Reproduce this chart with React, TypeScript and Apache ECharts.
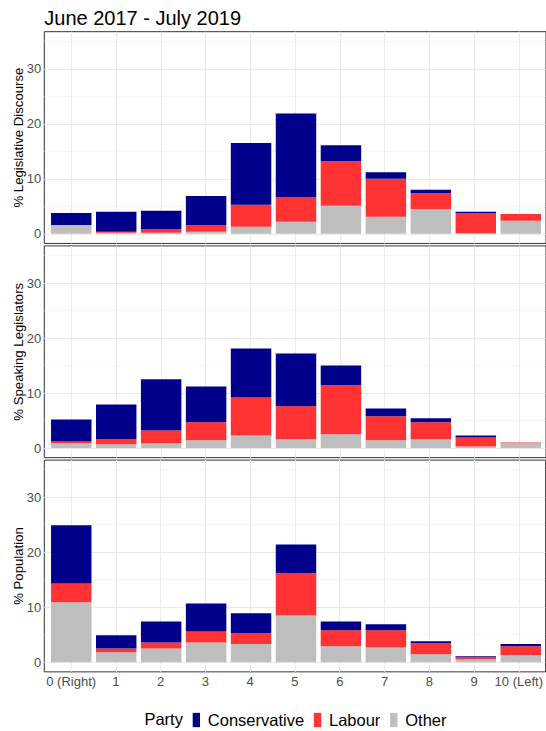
import React, { useEffect, useRef } from "react";
import * as echarts from "echarts";

const categories = ["0 (Right)", "1", "2", "3", "4", "5", "6", "7", "8", "9", "10 (Left)"];
const panelTitles = ["% Legislative Discourse", "% Speaking Legislators", "% Population"];
const parties = ["Conservative", "Labour", "Other"];
const partyColors: Record<string, string> = { Conservative: "#00008B", Labour: "#FF3333", Other: "#BEBEBE" };

// Panel 1: % Legislative Discourse
const discourseOther = [1.6, 0.2, 0.2, 0.4, 1.3, 2.2, 5.1, 3.1, 4.5, 0.1, 2.4];
const discourseLabour = [0.0, 0.2, 0.7, 1.2, 4.0, 4.5, 8.1, 6.9, 2.9, 3.7, 1.2];
const discourseConservative = [2.2, 3.6, 3.3, 5.3, 11.2, 15.2, 2.9, 1.2, 0.6, 0.2, 0.0];

// Panel 2: % Speaking Legislators
const speakingOther = [0.85, 0.7, 0.85, 1.4, 2.3, 1.6, 2.5, 1.4, 1.6, 0.3, 0.85];
const speakingLabour = [0.35, 0.9, 2.35, 3.3, 6.9, 6.0, 8.9, 4.4, 3.1, 1.6, 0.15];
const speakingConservative = [4.0, 6.3, 9.3, 6.5, 8.9, 9.6, 3.6, 1.4, 0.7, 0.4, 0.0];

// Panel 3: % Population
const populationOther = [10.9, 1.8, 2.5, 3.6, 3.3, 8.5, 2.9, 2.7, 1.45, 0.55, 1.3];
const populationLabour = [3.4, 0.7, 1.1, 2.0, 2.0, 7.7, 2.9, 3.1, 2.0, 0.35, 1.6];
const populationConservative = [10.6, 2.4, 3.8, 5.1, 3.6, 5.2, 1.6, 1.1, 0.35, 0.2, 0.4];

const yTicks = [0, 10, 20, 30];
const yMinorTicks = [5, 15, 25, 35];

const panels = [
  { Other: discourseOther, Labour: discourseLabour, Conservative: discourseConservative },
  { Other: speakingOther, Labour: speakingLabour, Conservative: speakingConservative },
  { Other: populationOther, Labour: populationLabour, Conservative: populationConservative },
];

const FONT = "'Liberation Sans', Arial, Helvetica, sans-serif";
const LEFT = 44.3;
const WIDTH = 503.4;
const STEP = WIDTH / 11.2;
const TOPS = [31.7, 245.9, 460.1];
const HEIGHT = 211.75;
const Y_MIN = -1.75;
const Y_MAX = 36.75;
const STACK_ORDER = ["Other", "Labour", "Conservative"];

export default function App() {
  const ref = useRef<HTMLDivElement>(null);

  useEffect(() => {
    if (!ref.current) return;
    const chart = echarts.init(ref.current, undefined, { renderer: "svg" });
    const idx = categories.map((_, i) => i);

    // outer panel grids (0-2): border, gridlines, axes; inner grids (3-5): stacked bars on category axis
    const grids: any[] = [
      ...TOPS.map((t) => ({
        left: LEFT,
        top: t,
        width: WIDTH,
        height: HEIGHT,
        show: true,
        borderColor: "#333333",
        borderWidth: 1,
        backgroundColor: "#ffffff",
      })),
      ...TOPS.map((t) => ({
        left: LEFT + 0.1 * STEP,
        top: t,
        width: 11 * STEP,
        height: HEIGHT,
        show: false,
      })),
    ];

    const xAxes: any[] = [
      ...TOPS.map((_, p) => ({
        gridIndex: p,
        type: "value",
        min: -0.6,
        max: 10.6,
        splitLine: { show: false },
        axisLine: { show: p === 2, lineStyle: { color: "#333333", width: 1 } },
        axisTick: { show: p === 2, customValues: idx, length: 3, lineStyle: { color: "#333333", width: 1 } },
        axisLabel: {
          show: p === 2,
          customValues: idx,
          formatter: (v: number) => categories[Math.round(v)],
          color: "#4D4D4D",
          fontSize: 13,
          margin: 3,
          fontFamily: FONT,
        },
      })),
      ...TOPS.map((_, p) => ({
        gridIndex: 3 + p,
        type: "category",
        data: categories,
        boundaryGap: true,
        show: false,
      })),
    ];

    const yAxes: any[] = [
      ...TOPS.map((_, p) => ({
        gridIndex: p,
        type: "value",
        min: Y_MIN,
        max: Y_MAX,
        splitLine: { show: false },
        axisLine: { show: true, lineStyle: { color: "#333333", width: 1 } },
        axisTick: { show: true, customValues: yTicks, length: 3, lineStyle: { color: "#333333", width: 1 } },
        axisLabel: {
          show: true,
          customValues: yTicks,
          color: "#4D4D4D",
          fontSize: 13,
          margin: 3,
          fontFamily: FONT,
        },
      })),
      ...TOPS.map((_, p) => ({
        gridIndex: 3 + p,
        type: "value",
        min: Y_MIN,
        max: Y_MAX,
        show: false,
        splitLine: { show: false },
      })),
    ];

    const major = { color: "#EBEBEB", width: 1.1, type: "solid" };
    const minor = { color: "#F0F0F0", width: 0.6, type: "solid" };

    const series: any[] = [];
    panels.forEach((panel, p) => {
      series.push({
        type: "line",
        xAxisIndex: p,
        yAxisIndex: p,
        data: [],
        z: 1,
        silent: true,
        markLine: {
          silent: true,
          z: 1,
          symbol: ["none", "none"],
          label: { show: false },
          emphasis: { disabled: true },
          animation: false,
          data: [
            ...yMinorTicks.map((v) => ({ yAxis: v, lineStyle: minor })),
            ...yTicks.map((v) => ({ yAxis: v, lineStyle: major })),
            ...idx.map((v) => ({ xAxis: v, lineStyle: major })),
          ],
        },
      });
      STACK_ORDER.forEach((party) => {
        const vals = (panel as any)[party] as number[];
        series.push({
          type: "bar",
          name: party,
          xAxisIndex: 3 + p,
          yAxisIndex: 3 + p,
          stack: "panel" + p,
          barWidth: "90%",
          z: 2,
          silent: true,
          itemStyle: { color: partyColors[party] },
          data: vals,
        });
      });
    });

    const graphics: any[] = panelTitles.map((t, p) => ({
      type: "text",
      x: 18.2,
      y: TOPS[p] + HEIGHT / 2,
      rotation: Math.PI / 2,
      style: {
        text: t,
        fontSize: 13.2,
        fontFamily: FONT,
        fill: "#000000",
        align: "center",
        verticalAlign: "middle",
      },
    }));
    graphics.push({
      type: "text",
      x: 144.4,
      y: 718.5,
      style: {
        text: "Party",
        fontSize: 16.5,
        fontFamily: FONT,
        fill: "#000000",
        align: "left",
        verticalAlign: "middle",
      },
    });

    chart.setOption({
      animation: false,
      backgroundColor: "#ffffff",
      textStyle: { fontFamily: FONT },
      title: {
        text: "June 2017 - July 2019",
        left: LEFT,
        top: 8,
        padding: 0,
        textStyle: { fontSize: 20, fontWeight: "normal", color: "#000000", fontFamily: FONT },
      },
      legend: {
        data: parties,
        left: 192.7,
        top: 711.5,
        orient: "horizontal",
        icon: "rect",
        itemWidth: 7.3,
        itemHeight: 14.3,
        itemGap: 9.8,
        selectedMode: false,
        padding: 0,
        textStyle: { fontSize: 16.5, color: "#000000", fontFamily: FONT, padding: [0, 0, 0, 2.8] },
      },
      grid: grids,
      xAxis: xAxes,
      yAxis: yAxes,
      series,
      graphic: graphics,
    });

    return () => chart.dispose();
  }, []);

  return (
    <div
      ref={ref}
      style={{ position: "absolute", left: 0, top: 0, width: 546, height: 731, background: "#fff" }}
    />
  );
}
